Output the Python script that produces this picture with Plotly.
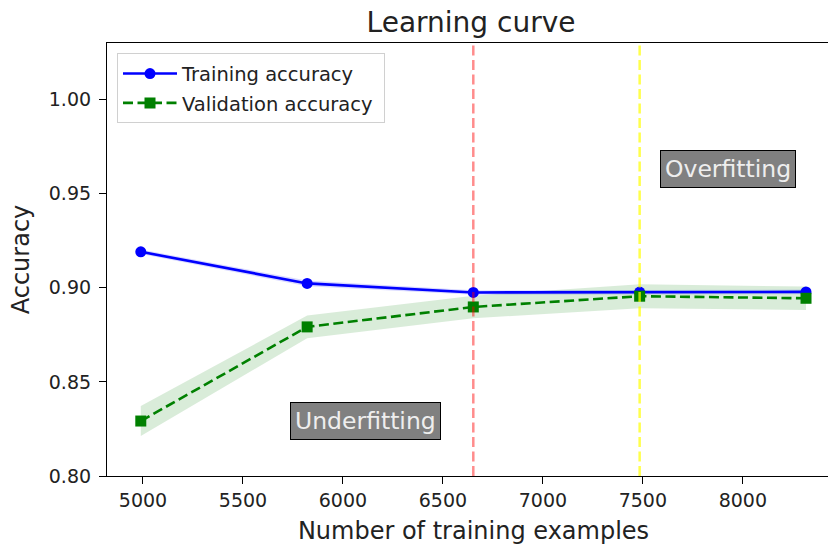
import plotly.graph_objects as go

train_sizes = [4989, 5821, 6652, 7484, 8316]
train_mean = [0.9191, 0.9023, 0.8975, 0.8977, 0.8978]
train_std = [0.0012, 0.0015, 0.0012, 0.0012, 0.0012]
val_mean = [0.8292, 0.8792, 0.8898, 0.8955, 0.8944]
val_std = [0.0080, 0.0060, 0.0060, 0.0064, 0.0062]

x_ticks = [5000, 5500, 6000, 6500, 7000, 7500, 8000]
y_ticks = [0.80, 0.85, 0.90, 0.95, 1.00]

underfit_pos = (6112, 0.8292)
overfit_pos = (7924, 0.9632)

FONT = "DejaVu Sans"
W = 840

def band(mean, std):
    up = [m + s for m, s in zip(mean, std)]
    lo = [m - s for m, s in zip(mean, std)]
    return train_sizes + train_sizes[::-1], up + lo[::-1]

fig = go.Figure()

bx, by = band(train_mean, train_std)
fig.add_trace(go.Scatter(x=bx, y=by, mode="lines", fill="toself", fillcolor="rgba(0,0,255,0.15)",
                         line=dict(width=0), hoverinfo="skip", showlegend=False))
vx, vy = band(val_mean, val_std)
fig.add_trace(go.Scatter(x=vx, y=vy, mode="lines", fill="toself", fillcolor="rgba(0,128,0,0.15)",
                         line=dict(width=0), hoverinfo="skip", showlegend=False))

fig.add_trace(go.Scatter(x=train_sizes, y=train_mean, mode="lines+markers",
                         name="Training accuracy", legendgroup="a",
                         line=dict(color="blue", width=2.6),
                         marker=dict(symbol="circle", size=11, color="blue")))
fig.add_trace(go.Scatter(x=train_sizes, y=val_mean, mode="lines+markers",
                         name="Validation accuracy\u00a0", legendgroup="b",
                         line=dict(color="green", width=2.6, dash="10px,4.5px"),
                         marker=dict(symbol="square", size=11, color="green")))

fig.add_vline(x=train_sizes[2], line=dict(color="rgba(255,0,0,0.45)", width=2.5, dash="10px,4.5px"))
fig.add_vline(x=train_sizes[3], line=dict(color="rgba(255,255,0,0.7)", width=2.5, dash="10px,4.5px"))

for txt, (ax, ay) in [("Underfitting", underfit_pos), ("Overfitting", overfit_pos)]:
    fig.add_annotation(x=ax, y=ay, text=txt, showarrow=False,
                       font=dict(family=FONT, size=23.5, color="#eeeeee"),
                       bgcolor="#808080", bordercolor="black", borderwidth=1, borderpad=4)

fig.update_layout(
    width=W, height=548,
    margin=dict(l=107, r=0, t=43, b=72, autoexpand=False),
    paper_bgcolor="white", plot_bgcolor="white",
    font=dict(family=FONT, size=19, color="#222222"),
    title=dict(text="Learning curve", x=471/W, xanchor="center", xref="container",
               y=1 - 22/548, yanchor="middle", yref="container",
               font=dict(family=FONT, size=28, color="#222222")),
    legend=dict(x=10/(W-107), y=0.976, xanchor="left", yanchor="top",
                bgcolor="white", bordercolor="#d0d0d0", borderwidth=1,
                traceorder="grouped", tracegroupgap=1,
                font=dict(family=FONT, size=19.5, color="#222222"), itemwidth=54),
    showlegend=True,
)

fig.update_xaxes(range=[4820, 8486], tickvals=x_ticks, showgrid=False, zeroline=False,
                 showline=True, linecolor="black", linewidth=1.2, mirror=True,
                 ticks="outside", ticklen=7, tickcolor="black", tickwidth=1.2,
                 tickfont=dict(size=19), automargin=False,
                 title=dict(text="Number of training examples", font=dict(size=24), standoff=12))
fig.update_yaxes(range=[0.80, 1.03], tickvals=y_ticks, tickformat=".2f", showgrid=False,
                 zeroline=False, showline=True, linecolor="black", linewidth=1.2,
                 ticks="outside", ticklen=7, tickcolor="black", tickwidth=1.2,
                 tickfont=dict(size=19), automargin=False, ticklabelstandoff=4,
                 title=dict(text="Accuracy", font=dict(size=24), standoff=12))

fig.write_html("out.html", config={"displayModeBar": False},
               post_script="document.body.style.margin='0px';document.body.style.overflow='hidden';document.documentElement.style.overflow='hidden';")
